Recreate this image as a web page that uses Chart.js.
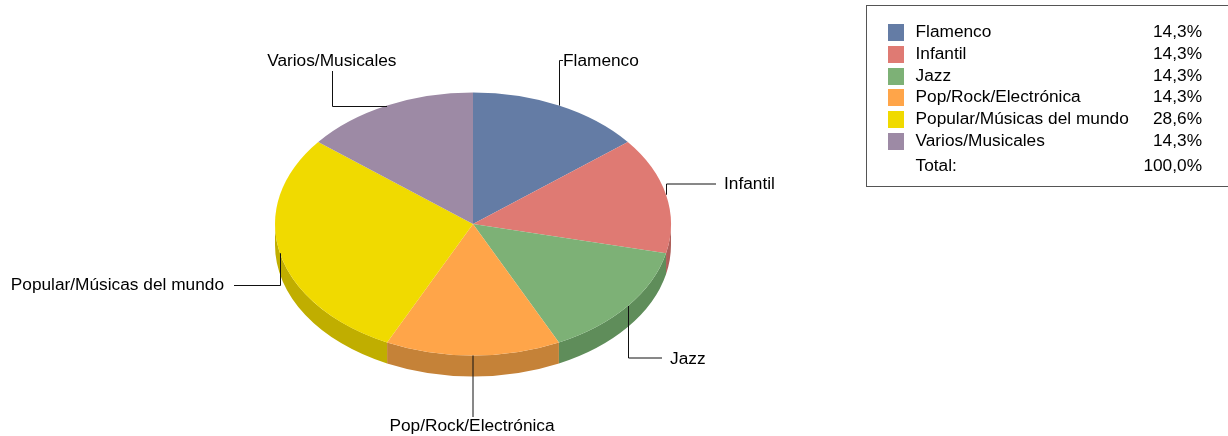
<!DOCTYPE html>
<html>
<head>
<meta charset="utf-8">
<style>html,body{margin:0;padding:0;background:#fff}canvas{display:block}</style>
<script src="https://cdn.jsdelivr.net/npm/chart.js@4"></script>
</head>
<body>
<canvas id="c" width="1228" height="436" style="width:1228px;height:436px"></canvas>
<script>
const categories = ['Flamenco','Infantil','Jazz','Pop/Rock/Electrónica','Popular/Músicas del mundo','Varios/Musicales'];
const shares = [14.3,14.3,14.3,14.3,28.6,14.3];
const shareLabels = ['14,3%','14,3%','14,3%','14,3%','28,6%','14,3%'];
const totalLabel = 'Total:';
const totalValue = '100,0%';
const topColours = ['#647ca5','#df7a73','#7db176','#ffa549','#f0da00','#9d8aa5'];
const sideColours = ['#4e6181','#ae5f5a','#5f8d5a','#c58238','#c0ae00','#7a6c81'];

const FONT = '17.3px "Liberation Sans", Arial, sans-serif';
const SQUASH = 131.5/198, DEPTH = 21;

// elbow and text anchor of each callout, in page pixels
const callouts = [
  {route:(s)=>[[Math.round(s.x)+.5,60.5],[563,60.5]], text:[563,61,'left']},
  {route:(s)=>[[Math.round(s.x)+.5,184],[716,184]], text:[724,184,'left']},
  {route:(s)=>[[Math.round(s.x)+.5,358],[662,358]], text:[670,359,'left']},
  {route:(s)=>[[s.x,417]], text:[472,426,'center']},
  {route:(s)=>[[Math.round(s.x)+.5,285.5],[234,285.5]], text:[224,285,'right']},
  {route:(s)=>[[332.5,Math.round(s.y)+.5],[332.5,71]], text:[396.5,61,'right']}
];

const pie3d = {
  id:'pie3d',
  beforeDatasetDraw(chart){
    const ctx = chart.ctx, arcs = chart.getDatasetMeta(0).data;
    const cx = arcs[0].x, cy = arcs[0].y, R = arcs[0].outerRadius, ry = R*SQUASH;
    // side wall: only the part of each slice facing the viewer
    arcs.forEach((a,i)=>{
      let s = a.startAngle, e = a.endAngle;
      const wraps = [[s,e],[s-2*Math.PI,e-2*Math.PI],[s+2*Math.PI,e+2*Math.PI]];
      wraps.forEach(([p,q])=>{
        const a0 = Math.max(p,0), a1 = Math.min(q,Math.PI);
        if(a1<=a0) return;
        ctx.beginPath();
        ctx.ellipse(cx,cy,R,ry,0,a0,a1,false);
        ctx.ellipse(cx,cy+DEPTH,R,ry,0,a1,a0,true);
        ctx.closePath();
        ctx.fillStyle = sideColours[i];
        ctx.fill();
      });
    });
    ctx.save();
    ctx.translate(cx,cy);
    ctx.scale(1,SQUASH);
    ctx.translate(-cx,-cy);
  },
  afterDatasetDraw(chart){
    chart.ctx.restore();
  },
  afterDraw(chart){
    const ctx = chart.ctx, arcs = chart.getDatasetMeta(0).data;
    ctx.save();
    ctx.font = FONT;
    ctx.textBaseline = 'middle';
    // callouts
    arcs.forEach((a,i)=>{
      const m = (a.startAngle+a.endAngle)/2;
      const s = {x:a.x+a.outerRadius*Math.cos(m), y:a.y+a.outerRadius*SQUASH*Math.sin(m)};
      const c = callouts[i];
      ctx.beginPath();
      ctx.moveTo(i===3||i===5?s.x:Math.round(s.x)+.5, i===5?Math.round(s.y)+.5:s.y);
      c.route(s).forEach(p=>ctx.lineTo(p[0],p[1]));
      ctx.lineWidth = 1;
      ctx.strokeStyle = '#111';
      ctx.stroke();
      ctx.fillStyle = '#000';
      ctx.textAlign = c.text[2];
      ctx.fillText(categories[i],c.text[0],c.text[1]);
    });
    // legend box, open past the right page edge
    ctx.strokeStyle = '#555';
    ctx.lineWidth = 1;
    ctx.strokeRect(866.5,5.5,400,181);
    const rowY = [31,53,75,96,118,140];
    categories.forEach((n,i)=>{
      ctx.fillStyle = topColours[i];
      ctx.fillRect(888,rowY[i]-7,16,17);
      ctx.fillStyle = '#000';
      ctx.textAlign = 'left';
      ctx.fillText(n,915.5,rowY[i]+1);
      ctx.textAlign = 'right';
      ctx.fillText(shareLabels[i],1202,rowY[i]+1);
    });
    ctx.textAlign = 'left';
    ctx.fillText(totalLabel,915.5,166);
    ctx.textAlign = 'right';
    ctx.fillText(totalValue,1202,166);
    ctx.restore();
  }
};

new Chart(document.getElementById('c'),{
  type:'pie',
  data:{labels:categories,datasets:[{data:shares,backgroundColor:topColours,borderWidth:0}]},
  options:{
    responsive:false,
    animation:false,
    radius:198,
    layout:{padding:{left:0,right:282,top:12,bottom:0}},
    plugins:{legend:{display:false},tooltip:{enabled:false}}
  },
  plugins:[pie3d]
});
</script>
</body>
</html>
